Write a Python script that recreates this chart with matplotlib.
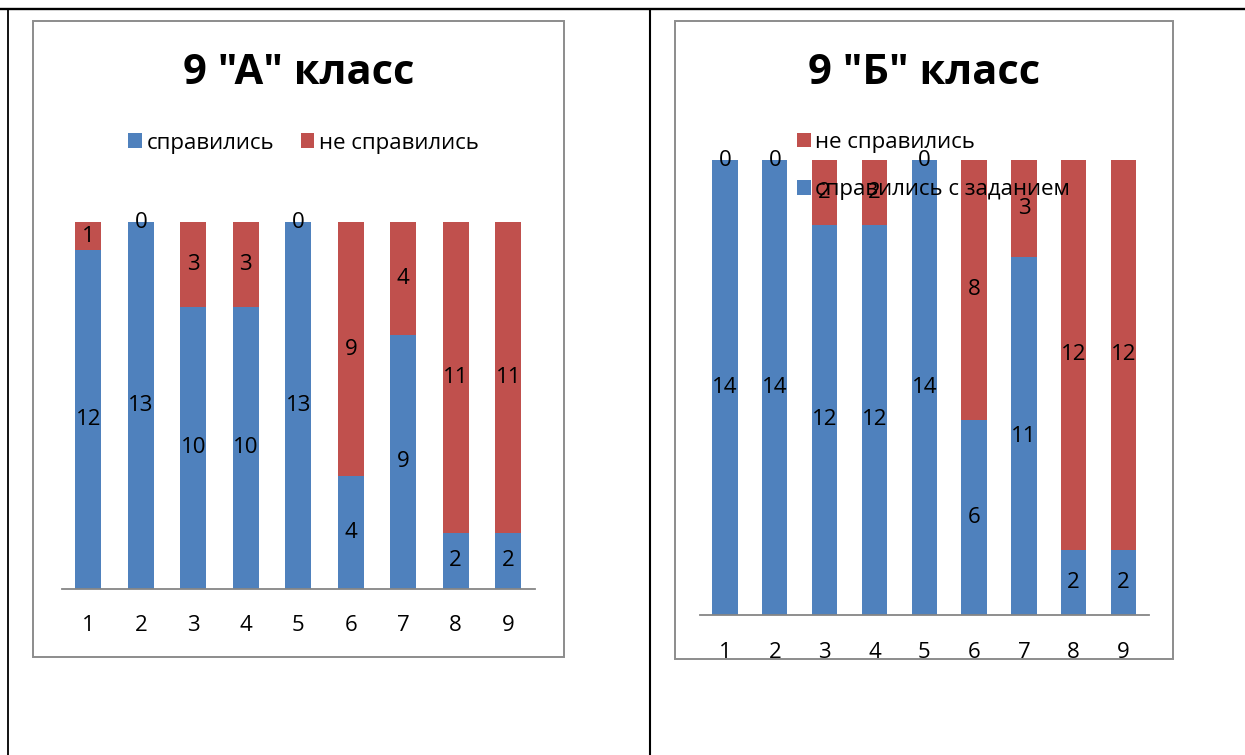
import matplotlib
matplotlib.use("Agg")
import matplotlib.pyplot as plt
from matplotlib.patches import Rectangle

plt.rcParams['font.family'] = ['Open Sans', 'DejaVu Sans']

# Task numbers and results per class
tasks = [1, 2, 3, 4, 5, 6, 7, 8, 9]

a_title = '9 "А" класс'
a_passed = [12, 13, 10, 10, 13, 4, 9, 2, 2]
a_failed = [1, 0, 3, 3, 0, 9, 4, 11, 11]
a_passed_label = 'справились'
a_failed_label = 'не справились'

b_title = '9 "Б" класс'
b_passed = [14, 14, 12, 12, 14, 6, 11, 2, 2]
b_failed = [0, 0, 2, 2, 0, 8, 3, 12, 12]
b_passed_label = 'справились с заданием'
b_failed_label = 'не справились'

BLUE = '#4F81BD'
RED = '#C0504D'
AXIS_GRAY = '#868686'
FRAME_GRAY = '#8C8C8C'

W, H = 1245, 755
fig = plt.figure(figsize=(W / 100, H / 100), dpi=100)
fig.patch.set_facecolor('white')

# Full-figure pixel canvas for table rules, chart frames and titles
bg = fig.add_axes([0, 0, 1, 1], zorder=0)
bg.set_xlim(0, W)
bg.set_ylim(H, 0)
bg.axis('off')

# table rules
bg.plot([0, W], [9, 9], color='black', lw=1.7, solid_capstyle='butt')
bg.plot([7.5, 7.5], [9, H], color='black', lw=1.3, solid_capstyle='butt')
bg.plot([650, 650], [9, H], color='black', lw=1.5, solid_capstyle='butt')

# chart frames
bg.add_patch(Rectangle((33, 21), 531, 636, fill=False, ec=FRAME_GRAY, lw=1.4))
bg.add_patch(Rectangle((675, 21), 498, 638, fill=False, ec=FRAME_GRAY, lw=1.4))


def px_axes(x0, x1, ytop, ybot):
    return fig.add_axes([x0 / W, 1 - ybot / H, (x1 - x0) / W, (ybot - ytop) / H], zorder=2)


def draw_chart(ax, passed, failed, ymax, width, pad):
    ax.set_facecolor('none')
    b1 = ax.bar(tasks, passed, width=width, color=BLUE, zorder=2)
    b2 = ax.bar(tasks, failed, width=width, bottom=passed, color=RED, zorder=2)
    for c in (b1, b2):
        labs = ax.bar_label(c, fmt='%d', label_type='center', fontsize=16, color='black')
        for t in labs:
            t.set_clip_on(False)
            t.set_zorder(4)
    ax.set_xlim(0.5, 9.5)
    ax.set_ylim(0, ymax)
    ax.set_xticks(tasks)
    ax.set_xticklabels([str(t) for t in tasks], fontsize=16)
    ax.tick_params(axis='x', length=0, pad=pad)
    ax.set_yticks([])
    for s in ('left', 'right', 'top'):
        ax.spines[s].set_visible(False)
    ax.spines['bottom'].set_color(AXIS_GRAY)
    ax.spines['bottom'].set_linewidth(1.3)
    ax.spines['bottom'].set_zorder(3)
    return b1, b2


# Chart for class А
axA = px_axes(62, 534.5, 222, 589)
a1, a2 = draw_chart(axA, a_passed, a_failed, 13, 0.5, 18.5)
bg.text(299, 73, a_title, ha='center', va='center', fontsize=30, fontweight='bold')
axA.legend([a1, a2], [a_passed_label, a_failed_label], ncol=2, loc='center',
           bbox_to_anchor=(303.5, 143), bbox_transform=bg.transData,
           frameon=False, fontsize=16, handlelength=0.62, handleheight=0.62,
           handletextpad=0.2, columnspacing=1.2, borderpad=0, borderaxespad=0)

# Chart for class Б
axB = px_axes(700, 1148.5, 160, 614.7)
b1, b2 = draw_chart(axB, b_passed, b_failed, 14, 0.51, 19.5)
bg.text(923.6, 73, b_title, ha='center', va='center', fontsize=30, fontweight='bold')
legB = axB.legend([b2, b1], [b_failed_label, b_passed_label], ncol=1, loc='center left',
                  bbox_to_anchor=(797, 166), bbox_transform=bg.transData,
                  frameon=False, fontsize=16, handlelength=0.62, handleheight=0.62,
                  handletextpad=0.2, labelspacing=1.2, borderpad=0, borderaxespad=0)
legB.set_zorder(5)

fig.savefig('out.png', dpi=100, facecolor='white')
